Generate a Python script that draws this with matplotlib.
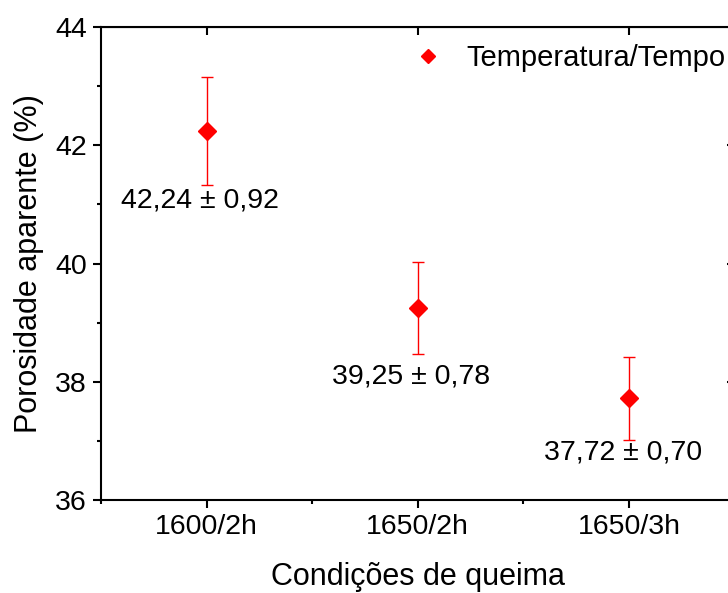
import numpy as np
import matplotlib.pyplot as plt
from matplotlib.lines import Line2D
from matplotlib.ticker import MultipleLocator, FixedLocator

plt.rcParams['font.family'] = ['Liberation Sans', 'DejaVu Sans']

condicoes = ['1600/2h', '1650/2h', '1650/3h']
porosidade = [42.24, 39.25, 37.72]
desvio = [0.92, 0.78, 0.70]
rotulos = ['42,24 ± 0,92', '39,25 ± 0,78', '37,72 ± 0,70']
# posicao dos rotulos em coordenadas de dados
pos_rot = [(0.97, 41.07), (1.97, 38.09), (2.97, 36.81)]

x = np.arange(1, len(condicoes) + 1)

fig = plt.figure(figsize=(7.28, 5.93), dpi=100)
ax = fig.add_axes([101 / 728, 93 / 593, 633.5 / 728, 473 / 593])

ax.errorbar(x, porosidade, yerr=desvio, fmt='D', color='red', ecolor='red',
            markersize=9, elinewidth=1, capsize=4.5, capthick=1)

for (tx, ty), txt in zip(pos_rot, rotulos):
    ax.text(tx, ty, txt, ha='center', va='center', fontsize=20.5)

ax.set_xlim(0.5, 3.5)
ax.set_ylim(36, 44)
ax.set_xticks(x)
ax.set_xticklabels(condicoes)
ax.xaxis.set_minor_locator(FixedLocator([0.5, 1.5, 2.5, 3.5]))
ax.yaxis.set_major_locator(MultipleLocator(2))
ax.yaxis.set_minor_locator(MultipleLocator(1))

ax.tick_params(which='major', direction='out', length=6, width=1.5,
               labelsize=20.5, pad=4)
ax.tick_params(which='minor', direction='out', length=3, width=1.5)
for s in ax.spines.values():
    s.set_linewidth(1.5)

top = ax.secondary_xaxis('top')
top.set_xticks(x)
top.tick_params(direction='in', length=6, width=1.5, labeltop=False)
right = ax.secondary_yaxis('right')
right.set_yticks([38, 40, 42])
right.tick_params(direction='in', length=6, width=1.5, labelright=False)

ax.set_xlabel('Condições de queima', fontsize=22, labelpad=16)
ax.set_ylabel('Porosidade aparente (%)', fontsize=22, labelpad=8)

marca = Line2D([], [], linestyle='none', marker='D', color='red', markersize=7)
ax.legend([marca], ['Temperatura/Tempo'], loc='upper left',
          bbox_to_anchor=((396 - 101) / 633.5, 1.0), borderaxespad=0,
          borderpad=0.6, frameon=False, fontsize=21, handlelength=1,
          handletextpad=0.8)

fig.savefig('out.png', dpi=100)
